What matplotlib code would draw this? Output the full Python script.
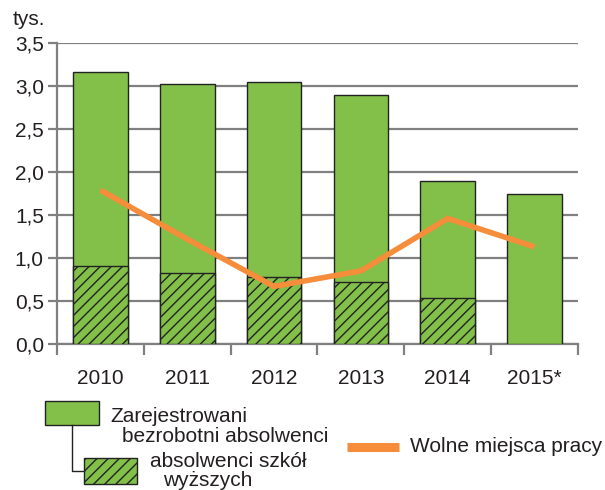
import matplotlib
matplotlib.use("Agg")
import matplotlib.pyplot as plt
from matplotlib.patches import Rectangle
from matplotlib.lines import Line2D
import matplotlib.ticker as ticker

plt.rcParams.update({
    "font.family": ["Liberation Sans", "DejaVu Sans"],
    "font.size": 15,
    "text.color": "#231f20",
    "xtick.labelcolor": "#231f20",
    "ytick.labelcolor": "#231f20",
    "hatch.linewidth": 1.0,
    "hatch.color": "#1a1a1a",
})

years = ["2010", "2011", "2012", "2013", "2014", "2015*"]
registered = [3.16, 3.02, 3.05, 2.90, 1.90, 1.74]
higher_ed = [0.91, 0.83, 0.78, 0.72, 0.53, None]
vacancies = [1.79, 1.22, 0.67, 0.85, 1.46, 1.13]

GREEN = "#82c04a"
ORANGE = "#f58d3a"
GRID = "#808080"
EDGE = "#222222"

fig = plt.figure(figsize=(6.05, 4.9), dpi=100)
ax = fig.add_axes([0.0942, 0.298, 0.861, 0.614])

x = list(range(len(years)))
bw = 0.63
ax.bar(x, registered, width=bw, color=GREEN, edgecolor=EDGE, linewidth=1.0, zorder=3)
hx = [i for i, v in zip(x, higher_ed) if v is not None]
hv = [v for v in higher_ed if v is not None]
ax.bar(hx, hv, width=bw, color=GREEN, edgecolor=EDGE, linewidth=1.0,
       hatch="///", zorder=4)
ax.plot(x, vacancies, color=ORANGE, linewidth=4, solid_capstyle="butt",
        solid_joinstyle="miter", zorder=5)

ax.set_xlim(-0.5, 5.5)
ax.set_ylim(0, 3.5)
ax.set_yticks([0, 0.5, 1.0, 1.5, 2.0, 2.5, 3.0, 3.5])
ax.yaxis.set_major_formatter(ticker.FuncFormatter(lambda v, p: f"{v:.1f}".replace(".", ",")))
ax.grid(axis="y", color=GRID, linewidth=1.6, zorder=0)
ax.set_xticks(x)
ax.set_xticklabels(years)
ax.set_xticks([i - 0.5 for i in range(len(years) + 1)], minor=True)
ax.tick_params(axis="x", which="major", length=0, pad=18)
ax.tick_params(axis="x", which="minor", length=8, width=1.6, color=GRID)
ax.tick_params(axis="y", length=6.5, width=1.6, color=GRID, pad=3)
for s in ["top", "right"]:
    ax.spines[s].set_visible(False)
for s in ["left", "bottom"]:
    ax.spines[s].set_color(GRID)
    ax.spines[s].set_linewidth(1.6)


# legend and labels drawn by hand, in pixel positions
def fx(px):
    return px / 605


def fy(py):
    return 1 - py / 490


fig.text(fx(13), fy(25), "tys.", ha="left", va="baseline")

fig.add_artist(Rectangle((fx(45), fy(425)), 54 / 605, 24 / 490, transform=fig.transFigure,
                         facecolor=GREEN, edgecolor=EDGE, linewidth=1.0))
fig.add_artist(Rectangle((fx(84), fy(484)), 53 / 605, 26 / 490, transform=fig.transFigure,
                         facecolor=GREEN, edgecolor=EDGE, linewidth=1.0, hatch="///"))
fig.add_artist(Line2D([fx(72), fx(72), fx(84)], [fy(425), fy(471), fy(471)],
                      transform=fig.transFigure, color=EDGE, linewidth=1.0))
fig.add_artist(Line2D([fx(347), fx(399)], [fy(447), fy(447)],
                      transform=fig.transFigure, color=ORANGE, linewidth=6.5,
                      solid_capstyle="butt"))
fig.text(fx(110), fy(422), "Zarejestrowani", ha="left", va="baseline")
fig.text(fx(122), fy(442), "bezrobotni absolwenci", ha="left", va="baseline")
fig.text(fx(150), fy(467), "absolwenci szkół", ha="left", va="baseline")
fig.text(fx(163), fy(486), "wyższych", ha="left", va="baseline")
fig.text(fx(410), fy(452), "Wolne miejsca pracy", ha="left", va="baseline")

fig.savefig("out.png", dpi=100)
